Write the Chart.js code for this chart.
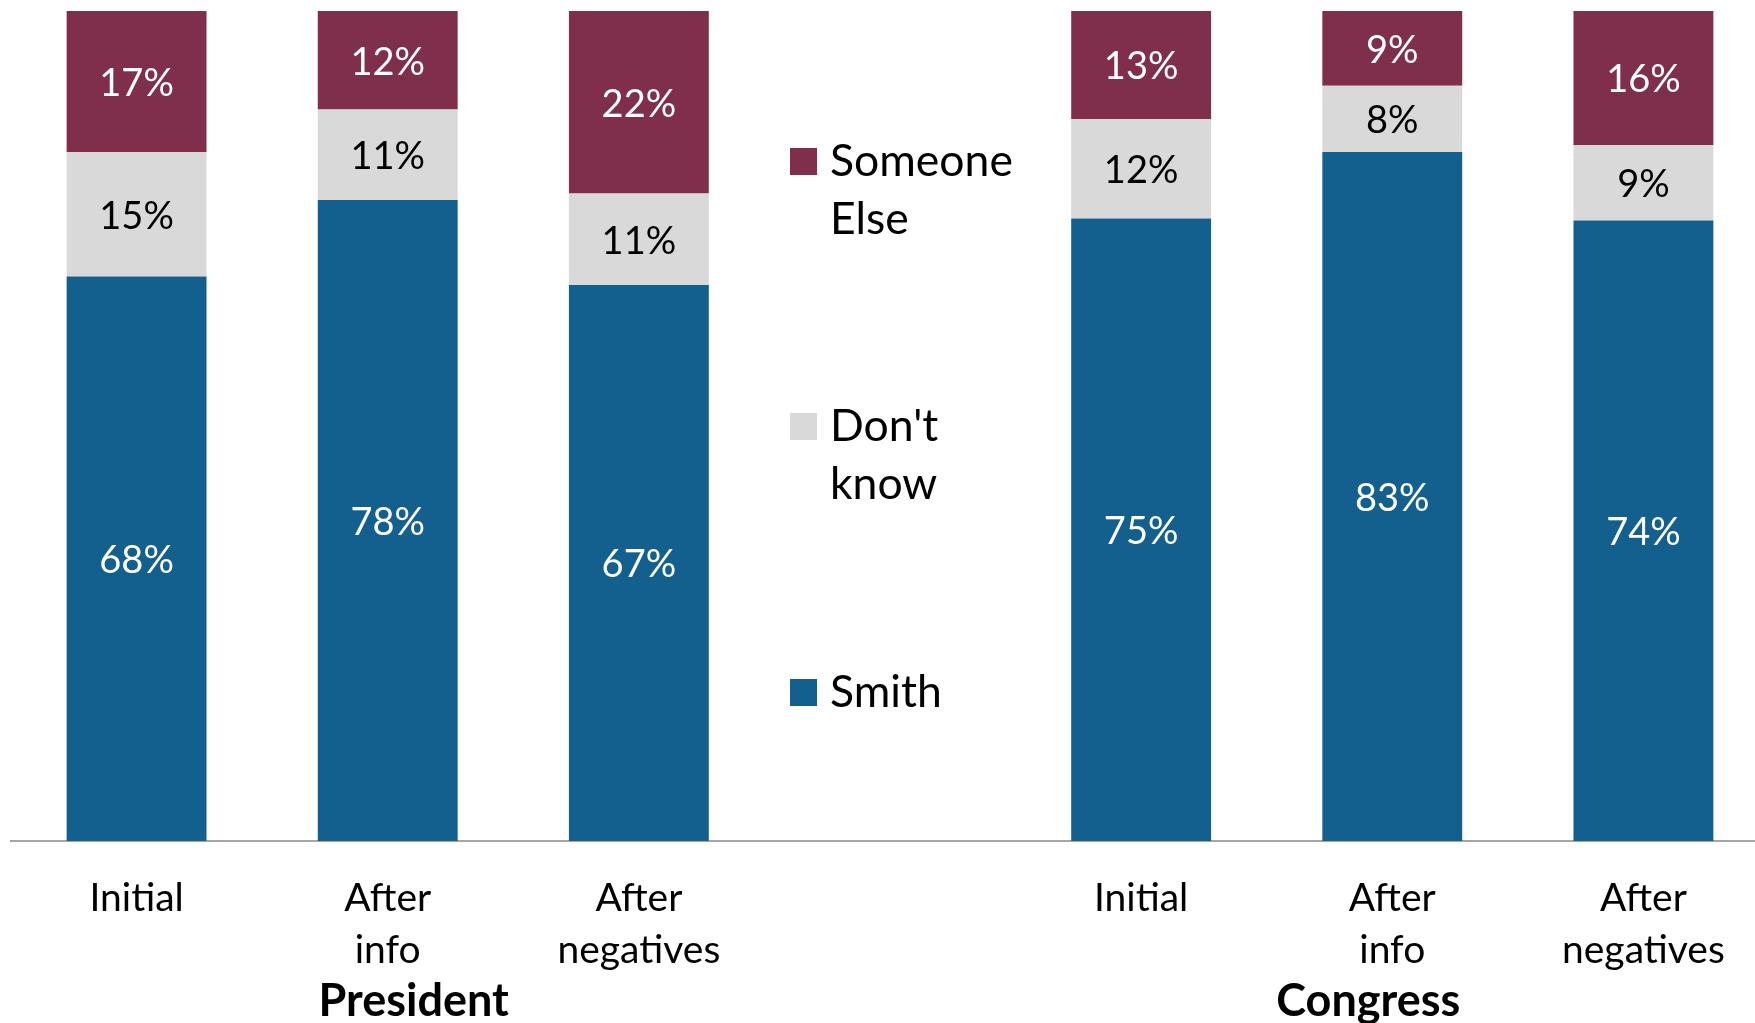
<!DOCTYPE html>
<html>
<head>
<meta charset="utf-8">
<script src="https://cdn.jsdelivr.net/npm/chart.js@4/dist/chart.umd.min.js"></script>
<style>
    html, body { margin: 0; padding: 0; background: #fff; overflow: hidden; }
    #wrap { width: 1769px; height: 1023px; position: relative; }
</style>
</head>
<body>
<div id="wrap"><canvas id="barChart"></canvas></div>
<script>
    // data (percent shares, each bar stacks to ~100)
    var categories = [['Initial'], ['After', 'info'], ['After', 'negatives'], '', ['Initial'], ['After', 'info'], ['After', 'negatives']];
    var smith = [68, 78, 67, null, 75, 83, 74];
    var dontKnow = [15, 11, 11, null, 12, 8, 9];
    var someoneElse = [17, 12, 22, null, 13, 9, 16];
    var groupNames = ['President', 'Congress'];
    var seriesNames = ['Smith', "Don't know", 'Someone Else'];

    var colors = { smith: '#13608F', dk: '#D9D9D9', else: '#7F2F4C' };
    var FONT = 'Lato';

    // each bar is drawn as a 100% stack
    function share(arr) {
        return arr.map(function (v, i) {
            if (v == null) return null;
            var total = smith[i] + dontKnow[i] + someoneElse[i];
            return v / total * 100;
        });
    }

    var rawByDataset = [smith, dontKnow, someoneElse];

    var segmentLabels = {
        id: 'segmentLabels',
        afterDatasetsDraw: function (chart) {
            var ctx = chart.ctx;
            ctx.save();
            ctx.font = '38px ' + FONT;
            ctx.textAlign = 'center';
            ctx.textBaseline = 'middle';
            chart.data.datasets.forEach(function (ds, di) {
                var meta = chart.getDatasetMeta(di);
                meta.data.forEach(function (el, i) {
                    var raw = rawByDataset[di][i];
                    if (raw == null) return;
                    ctx.fillStyle = di === 1 ? '#000' : '#fff';
                    ctx.fillText(raw + '%', el.x, (el.y + el.base) / 2 + 2);
                });
            });
            ctx.restore();
        }
    };

    var sideLegend = {
        id: 'sideLegend',
        afterDraw: function (chart) {
            var ctx = chart.ctx;
            var cx = chart.scales.x.getPixelForValue(3);
            var items = [
                { lines: ['Someone', 'Else'], color: colors.else, y: 162 },
                { lines: ["Don't", 'know'], color: colors.dk, y: 427 },
                { lines: ['Smith'], color: colors.smith, y: 693 }
            ];
            ctx.save();
            ctx.font = '44.5px ' + FONT;
            ctx.textBaseline = 'middle';
            ctx.textAlign = 'left';
            items.forEach(function (it) {
                ctx.fillStyle = it.color;
                ctx.fillRect(cx - 100, it.y - 14, 27, 27);
                ctx.fillStyle = '#000';
                it.lines.forEach(function (ln, k) {
                    ctx.fillText(ln, cx - 60, it.y + k * 58);
                });
            });
            // group titles under the tick labels
            var xs = chart.scales.x;
            ctx.font = 'bold 45px ' + FONT;
            ctx.textAlign = 'center';
            ctx.fillText(groupNames[0], xs.getPixelForValue(1) + 26, 1001);
            ctx.fillText(groupNames[1], xs.getPixelForValue(5) - 24, 1001);
            ctx.restore();
        }
    };

    var ctx = document.getElementById('barChart').getContext('2d');
    var chart = new Chart(ctx, {
        type: 'bar',
        data: {
            labels: categories,
            datasets: [
                { label: seriesNames[0], data: share(smith), backgroundColor: colors.smith },
                { label: seriesNames[1], data: share(dontKnow), backgroundColor: colors.dk },
                { label: seriesNames[2], data: share(someoneElse), backgroundColor: colors.else }
            ]
        },
        options: {
            responsive: true,
            maintainAspectRatio: false,
            animation: false,
            datasets: {
                bar: { categoryPercentage: 1, barPercentage: 0.557 }
            },
            layout: { padding: { top: 11, left: 11, right: 0, bottom: 0 } },
            plugins: {
                legend: { display: false },
                tooltip: { enabled: false }
            },
            scales: {
                x: {
                    stacked: true,
                    grid: { display: false },
                    border: { display: true, color: '#A6A6A6', width: 2 },
                    ticks: {
                        color: '#000',
                        font: { family: FONT, size: 39, lineHeight: 1.34 },
                        padding: 23,
                        maxRotation: 0,
                        autoSkip: false
                    },
                    afterFit: function (scale) { scale.height = 182; }
                },
                y: {
                    stacked: true,
                    display: false,
                    min: 0,
                    max: 100
                }
            }
        },
        plugins: [segmentLabels, sideLegend]
    });
</script>
</body>
</html>
